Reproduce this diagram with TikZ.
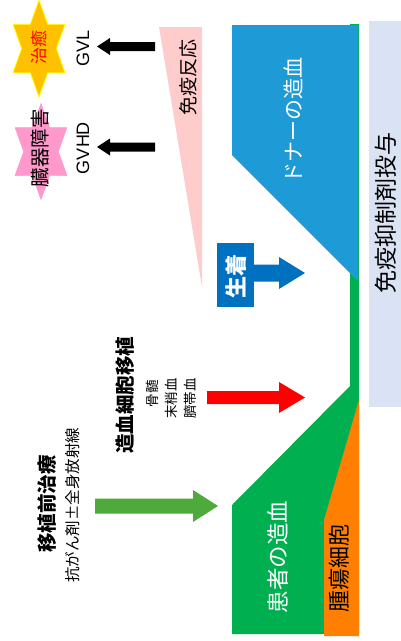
\documentclass[tikz,border=0pt]{standalone}
\usepackage{fontspec}
\setmainfont{Noto Sans CJK JP}
\newfontfamily\latf{Liberation Sans}
\usetikzlibrary{calc}
\definecolor{suppr}{HTML}{DAE3F3}
\definecolor{patient}{HTML}{00B050}
\definecolor{tumor}{HTML}{FF8000}
\definecolor{donor}{HTML}{1E9BD7}
\definecolor{immune}{HTML}{FFCCCC}
\definecolor{engraft}{HTML}{0070C0}
\definecolor{precond}{HTML}{4EAA3A}
\definecolor{starA}{HTML}{FFC000}
\definecolor{starAb}{HTML}{FFFF00}
\definecolor{starB}{HTML}{FF99CC}
\newcommand\fsz[1]{\fontsize{#1}{#1}\selectfont}
% #1 tail, #2 head, #3 shaft half width, #4 head half width, #5 signed head length, #6 colour
\newcommand\blockarr[6]{\fill[#6] ($(#1)+(0,#3)$) -- ($(#2)+(#5,#3)$) -- ($(#2)+(#5,#4)$) -- (#2) -- ($(#2)+(#5,-#4)$) -- ($(#2)+(#5,-#3)$) -- ($(#1)+(0,-#3)$) -- cycle;}
% #1 centre, #2 outer radius, #3 inner radius, #4 xscale, #5 style
\newcommand\hexstar[5]{\begin{scope}[shift={#1},xscale=#4]
\draw[#5] (90:#2) -- (60:#3) -- (30:#2) -- (0:#3) -- (-30:#2) -- (-60:#3) -- (-90:#2) -- (-120:#3) -- (-150:#2) -- (180:#3) -- (150:#2) -- (120:#3) -- cycle;
\end{scope}}
\begin{document}
\begin{tikzpicture}[x=1pt,y=-1pt,
  lbl/.style={rotate=90,inner sep=0pt,anchor=center}]
\useasboundingbox (0,0) rectangle (401,641);
% immunosuppressant bar
\fill[suppr] (369,21) rectangle (401,407);
% patient haematopoiesis
\fill[patient] (350,24) -- (359,24) -- (359,634) -- (232,634) -- (232,505) -- (350,386) -- cycle;
% tumour cells
\fill[tumor] (324,520) -- (359,400) -- (359,636) -- (324,636) -- cycle;
% donor haematopoiesis
\fill[donor] (232,25) -- (358,25) -- (358,281) -- (232,155) -- cycle;
% immune reaction wedge
\fill[immune] (159,27) -- (202,27) -- (202,287) -- cycle;
% stars
\hexstar{(39,48.5)}{48.5}{28}{0.619}{fill=starA,draw=starAb,line width=0.8pt}
\hexstar{(41,151.5)}{48}{27.7}{0.625}{fill=starB,draw=starB,line width=0.5pt}
% engraftment box
\fill[engraft] (217,243) rectangle (254,307);
% arrows
\coordinate (gvlT) at (155,46.5);  \coordinate (gvlH) at (97,46.5);
\coordinate (gvhdT) at (155,147);  \coordinate (gvhdH) at (97,147);
\blockarr{gvlT}{gvlH}{4.5}{8.5}{13}{black}
\blockarr{gvhdT}{gvhdH}{4.5}{8.5}{13}{black}
\coordinate (engT) at (253,273);  \coordinate (engH) at (305,273);
\blockarr{engT}{engH}{8.5}{16}{-26}{engraft}
\coordinate (hctT) at (207,397.5);  \coordinate (hctH) at (305,397.5);
\blockarr{hctT}{hctH}{6.5}{15.5}{-26}{red}
\coordinate (preT) at (95,506);  \coordinate (preH) at (218,506);
\blockarr{preT}{preH}{7.5}{16}{-25}{precond}
% labels
\node[lbl,font=\fsz{23}] (supp) at (386,213) {免疫抑制剤投与};
\node[lbl,font=\fsz{21},text=white] (don) at (293,120) {ドナーの造血};
\node[lbl,font=\fsz{22.5},text=white] (pat) at (278,557) {患者の造血};
\node[lbl,font=\fsz{22}] (tum) at (339,568) {腫瘍細胞};
\node[lbl,font=\fsz{19}] (imm) at (188,77) {免疫反応};
\node[lbl,font=\latf\fsz{18}] (gvl) at (83,48) {GVL};
\node[lbl,font=\latf\fsz{18}] (gvhd) at (83,148) {GVHD};
\node[lbl,font=\fsz{17},text=red] (cure) at (39,47) {治癒};
\node[lbl,font=\fsz{19.5}] (organ) at (40,148) {臓器障害};
\node[lbl,font=\bfseries\fsz{22},text=white] (eng) at (236,276) {生着};
\node[lbl,font=\bfseries\fsz{19.5}] (hct) at (125,395) {造血細胞移植};
\node[lbl,font=\fsz{13.5},anchor=east] (bm) at (152,380) {骨髄};
\node[lbl,font=\fsz{13.5},anchor=east] (pb) at (171,378) {末梢血};
\node[lbl,font=\fsz{13.5},anchor=east] (cb) at (190,378) {臍帯血};
\node[lbl,font=\bfseries\fsz{19.5}] (pre) at (47,504) {移植前治療};
\node[lbl,font=\fsz{15.5}] (chemo) at (73,505) {抗がん剤±全身放射線};
\end{tikzpicture}
\end{document}
